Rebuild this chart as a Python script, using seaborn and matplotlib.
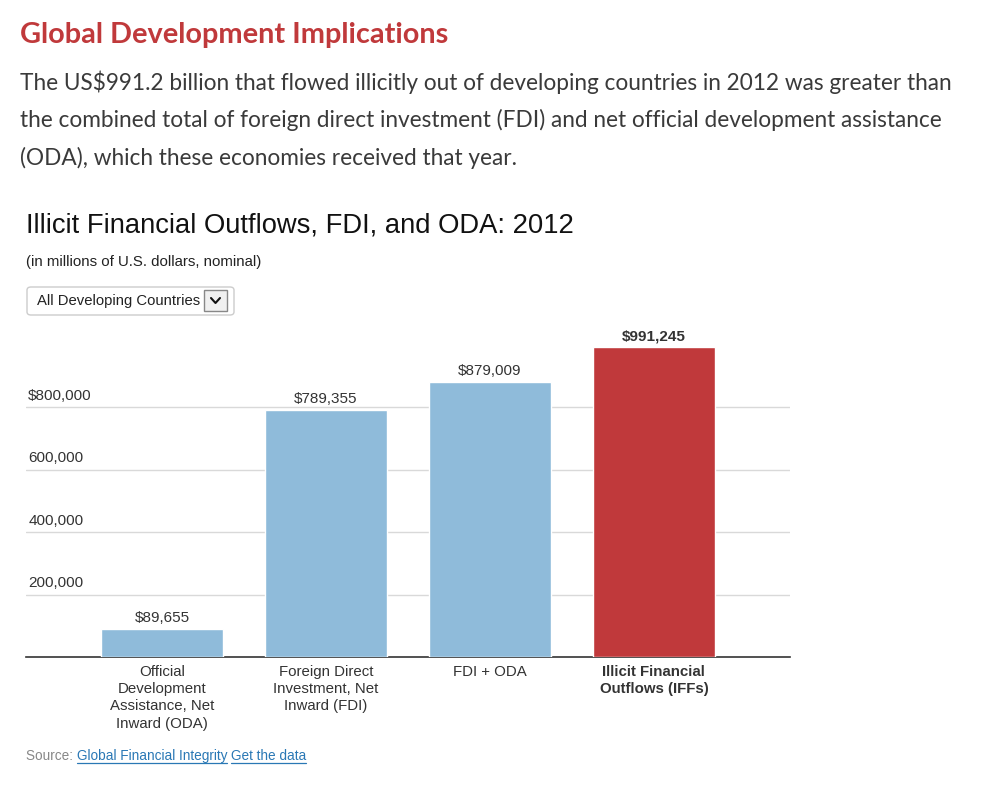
import matplotlib
matplotlib.use("Agg")
import matplotlib.pyplot as plt
import seaborn as sns
import pandas as pd
from matplotlib.patches import FancyBboxPatch, Rectangle
from matplotlib.lines import Line2D
from matplotlib.transforms import blended_transform_factory

categories = [
    "Official\nDevelopment\nAssistance, Net\nInward (ODA)",
    "Foreign Direct\nInvestment, Net\nInward (FDI)",
    "FDI + ODA",
    "Illicit Financial\nOutflows (IFFs)",
]
values = [89655, 789355, 879009, 991245]
value_labels = ["$89,655", "$789,355", "$879,009", "$991,245"]
bar_colors = ["#8fbbda", "#8fbbda", "#8fbbda", "#c0393b"]
ytick_values = [200000, 400000, 600000, 800000]
ytick_labels = ["200,000", "400,000", "600,000", "$800,000"]

W, H = 995, 793
sns.set_theme(style="white")
plt.rcParams["font.family"] = ["Liberation Sans", "DejaVu Sans"]

fig = plt.figure(figsize=(W / 100, H / 100), dpi=100)
fig.patch.set_facecolor("white")


def fx(x):
    return x / W


def fy(y):
    return 1 - y / H


# Axes placement (pixel-based)
ax_l, ax_r, ax_b, ax_t = 26, 790, 657, 329
ax = fig.add_axes([fx(ax_l), fy(ax_b), fx(ax_r - ax_l), (ax_b - ax_t) / H])

df = pd.DataFrame({"category": categories, "value": values})
sns.barplot(data=df, x="category", y="value", hue="category",
            palette=bar_colors, width=0.744, saturation=1, legend=False,
            ax=ax, zorder=3)

ax.set_xlim(-0.83, 3.83)
ax.set_ylim(0, 1050000)
for s in ["top", "right", "left"]:
    ax.spines[s].set_visible(False)
ax.spines["bottom"].set_color("#333333")
ax.spines["bottom"].set_linewidth(1.2)
ax.set_xlabel("")
ax.set_ylabel("")
ax.set_yticks(ytick_values)
ax.set_yticklabels([])
ax.tick_params(axis="y", length=0)
ax.tick_params(axis="x", length=0, pad=6, labelsize=10.8, labelcolor="#333333")
ax.grid(axis="y", color="#d9d9d9", linewidth=1, zorder=0)
ax.set_axisbelow(True)

for lbl in ax.get_xticklabels():
    lbl.set_linespacing(1.28)
ax.get_xticklabels()[-1].set_fontweight("bold")

# y tick labels above gridlines, left aligned
trans = blended_transform_factory(ax.transAxes, ax.transData)
for v, t in zip(ytick_values, ytick_labels):
    ax.annotate(t, xy=(0.003, v), xycoords=trans, xytext=(0, 3),
                textcoords="offset points", ha="left", va="bottom",
                fontsize=11, color="#333333")

# value labels
for i, (v, t) in enumerate(zip(values, value_labels)):
    ax.annotate(t, xy=(i, v), xytext=(0, 3), textcoords="offset points",
                ha="center", va="bottom", fontsize=11, color="#333333",
                fontweight="bold" if i == 3 else "normal")

# Header texts
fig.text(fx(20), fy(35), "Global Development Implications", ha="left", va="center",
         fontsize=20.8, color="#c0393b", fontweight="bold", family=["Lato", "DejaVu Sans"])
para = [
    "The US$991.2 billion that flowed illicitly out of developing countries in 2012 was greater than",
    "the combined total of foreign direct investment (FDI) and net official development assistance",
    "(ODA), which these economies received that year.",
]
for k, line in enumerate(para):
    fig.text(fx(20), fy(82 + 38 * k), line, ha="left", va="center",
             fontsize=16.3, color="#3a3a3a", family=["Lato", "DejaVu Sans"])

fig.text(fx(26), fy(225), "Illicit Financial Outflows, FDI, and ODA: 2012", ha="left",
         va="center", fontsize=19.75, color="#111111")
fig.text(fx(26), fy(262), "(in millions of U.S. dollars, nominal)", ha="left",
         va="center", fontsize=10.8, color="#222222")

# Dropdown
box = FancyBboxPatch((fx(27), fy(315)), fx(207), (315 - 287) / H,
                     boxstyle="round,pad=0,rounding_size=0.004",
                     transform=fig.transFigure, facecolor="white",
                     edgecolor="#cccccc", linewidth=1)
fig.add_artist(box)
fig.text(fx(37), fy(301), "All Developing Countries", ha="left", va="center",
         fontsize=10.7, color="#222222")
small = Rectangle((fx(204), fy(311)), fx(23), (311 - 290) / H,
                  transform=fig.transFigure, facecolor="#f0f0f0",
                  edgecolor="#888888", linewidth=1)
fig.add_artist(small)
fig.add_artist(Line2D([fx(211), fx(215.5), fx(220)], [fy(298), fy(303), fy(298)],
                      transform=fig.transFigure, color="#111111", linewidth=1.5))

# Source line
t1 = fig.text(fx(26), fy(756), "Source: ", ha="left", va="center", fontsize=9.85,
              color="#888888")
fig.canvas.draw()
r = fig.canvas.get_renderer()
bb = t1.get_window_extent(r)
t2 = fig.text(bb.x1 / W, fy(756), "Global Financial Integrity", ha="left",
              va="center", fontsize=9.85, color="#2a78b5")
bb2 = t2.get_window_extent(r)
t3 = fig.text(bb2.x1 / W + fx(4), fy(756), "Get the data", ha="left",
              va="center", fontsize=9.85, color="#2a78b5")
bb3 = t3.get_window_extent(r)
for b in (bb2, bb3):
    fig.add_artist(Line2D([b.x0 / W, b.x1 / W], [fy(763), fy(763)],
                          transform=fig.transFigure, color="#2a78b5", linewidth=0.9))

fig.savefig("out.png", dpi=100, facecolor="white")
